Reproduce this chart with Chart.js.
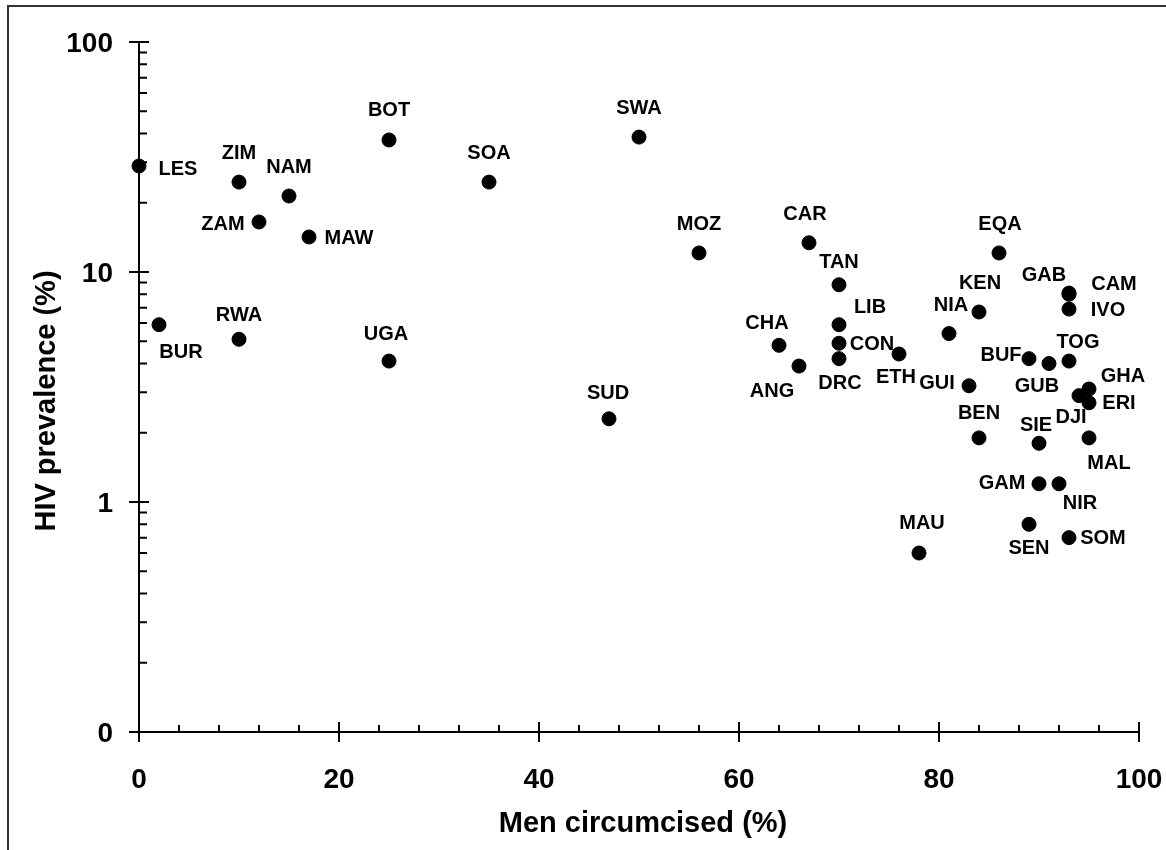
<!DOCTYPE html>
<html>
<head>
<meta charset="utf-8">
<title>HIV prevalence and male circumcision</title>
<script src="https://cdn.jsdelivr.net/npm/chart.js@4.4.1/dist/chart.umd.min.js"></script>
<style>
  html, body { margin: 0; padding: 0; background: #fff; }
  canvas { display: block; }
</style>
</head>
<body>
<canvas id="hivChart" width="1166" height="850"></canvas>
<script>
// Country codes, % of men circumcised, HIV prevalence (%)
const countries = ['LES', 'BUR', 'ZIM', 'ZAM', 'NAM', 'MAW', 'RWA', 'BOT', 'UGA', 'SOA',
  'SWA', 'SUD', 'MOZ', 'CAR', 'TAN', 'LIB', 'CON', 'DRC', 'CHA', 'ANG',
  'ETH', 'NIA', 'KEN', 'EQA', 'GAB', 'CAM', 'IVO', 'TOG', 'BUF', 'GUB',
  'GHA', 'ERI', 'DJI', 'GUI', 'BEN', 'SIE', 'MAL', 'GAM', 'NIR', 'MAU',
  'SEN', 'SOM'];
const circumcised = [0, 2, 10, 12, 15, 17, 10, 25, 25, 35,
  50, 47, 56, 67, 70, 70, 70, 70, 64, 66,
  76, 81, 84, 86, 93, 93, 93, 93, 89, 91,
  95, 95, 94, 83, 84, 90, 95, 90, 92, 78,
  89, 93];
const prevalence = [28.9, 5.9, 24.6, 16.5, 21.4, 14.2, 5.1, 37.5, 4.1, 24.6,
  38.6, 2.3, 12.1, 13.4, 8.8, 5.9, 4.9, 4.2, 4.8, 3.9,
  4.4, 5.4, 6.7, 12.1, 8.1, 8.0, 6.9, 4.1, 4.2, 4.0,
  3.1, 2.7, 2.9, 3.2, 1.9, 1.8, 1.9, 1.2, 1.2, 0.6,
  0.8, 0.7];

const xTicks = [0, 20, 40, 60, 80, 100];
const yTicks = [0.1, 1, 10, 100];
const yTickLabels = ['0', '1', '10', '100'];

// where each country code sits relative to its dot (px)
const labelOffset = {
  LES: [39, 3], BUR: [22, 28], ZIM: [0, -29], ZAM: [-36, 3], NAM: [0, -29],
  MAW: [40, 2], RWA: [0, -24], BOT: [0, -29], UGA: [-3, -27], SOA: [0, -29],
  SWA: [0, -29], SUD: [-1, -25], MOZ: [0, -28], CAR: [-4, -28], TAN: [0, -22],
  LIB: [31, -17], CON: [33, 1], DRC: [1, 25], CHA: [-12, -22], ANG: [-27, 25],
  ETH: [-3, 23], NIA: [2, -28], KEN: [1, -29], EQA: [1, -28], GAB: [-25, -18],
  CAM: [45, -10], IVO: [39, 1], TOG: [9, -19], BUF: [-28, -3], GUB: [-12, 23],
  GHA: [34, -13], ERI: [30, 1], DJI: [-8, 22], GUI: [-32, -2], BEN: [0, -24],
  SIE: [-3, -18], MAL: [20, 26], GAM: [-37, 0], NIR: [21, 20], MAU: [3, -30],
  SEN: [0, 24], SOM: [34, 1]
};

const FONT = '"Liberation Sans", Arial, sans-serif';

// Axes drawn by hand: crossing major ticks, inner minor ticks
const axesPlugin = {
  id: 'axesPlugin',
  beforeDatasetsDraw(chart) {
    const ctx = chart.ctx;
    const xs = chart.scales.x;
    const ys = chart.scales.y;
    const x0 = xs.getPixelForValue(0);
    const x1 = xs.getPixelForValue(100);
    const y0 = ys.getPixelForValue(0.1);
    const y1 = ys.getPixelForValue(100);

    ctx.save();
    // outer frame
    ctx.strokeStyle = '#333';
    ctx.lineWidth = 2;
    ctx.strokeRect(8, 6, chart.width + 20, chart.height + 20);

    ctx.strokeStyle = '#000';
    ctx.lineWidth = 2;
    ctx.beginPath();
    ctx.moveTo(x0, y0); ctx.lineTo(x1, y0);
    ctx.moveTo(x0, y0); ctx.lineTo(x0, y1);

    xTicks.forEach(v => {
      const px = xs.getPixelForValue(v);
      ctx.moveTo(px, y0 - 10); ctx.lineTo(px, y0 + 10);
    });
    for (let v = 4; v < 100; v += 4) {
      if (v % 20 === 0) continue;
      const px = xs.getPixelForValue(v);
      ctx.moveTo(px, y0); ctx.lineTo(px, y0 - 7);
    }
    yTicks.forEach(v => {
      const py = ys.getPixelForValue(v);
      ctx.moveTo(x0 - 10, py); ctx.lineTo(x0 + 10, py);
    });
    [0.1, 1, 10].forEach(dec => {
      for (let m = 2; m <= 9; m++) {
        const py = ys.getPixelForValue(m * dec);
        ctx.moveTo(x0, py); ctx.lineTo(x0 + 8, py);
      }
    });
    ctx.stroke();

    // tick labels
    ctx.fillStyle = '#000';
    ctx.font = 'bold 28px ' + FONT;
    ctx.textAlign = 'center';
    ctx.textBaseline = 'middle';
    xTicks.forEach(v => {
      ctx.fillText(String(v), xs.getPixelForValue(v), y0 + 48);
    });
    ctx.textAlign = 'right';
    yTicks.forEach((v, i) => {
      ctx.fillText(yTickLabels[i], x0 - 26, ys.getPixelForValue(v) + 2);
    });

    // axis titles
    ctx.font = 'bold 29px ' + FONT;
    ctx.textAlign = 'center';
    ctx.fillText('Men circumcised (%)', 643, 824);
    ctx.save();
    ctx.translate(47, 401);
    ctx.rotate(-Math.PI / 2);
    ctx.fillText('HIV prevalence (%)', 0, 0);
    ctx.restore();
    ctx.restore();
  },
  afterDatasetsDraw(chart) {
    const ctx = chart.ctx;
    const meta = chart.getDatasetMeta(0);
    ctx.save();
    ctx.fillStyle = '#000';
    ctx.font = 'bold 20px ' + FONT;
    ctx.textAlign = 'center';
    ctx.textBaseline = 'middle';
    meta.data.forEach((pt, i) => {
      const off = labelOffset[countries[i]] || [0, -28];
      ctx.fillText(countries[i], pt.x + off[0], pt.y + off[1]);
    });
    ctx.restore();
  }
};

function loadChart() {
  const ctx = document.getElementById('hivChart').getContext('2d');
  new Chart(ctx, {
    type: 'scatter',
    data: {
      datasets: [{
        label: 'HIV prevalence',
        data: countries.map((c, i) => ({ x: circumcised[i], y: prevalence[i] })),
        backgroundColor: '#000',
        borderColor: '#000',
        pointRadius: 7,
        pointHoverRadius: 7,
        clip: false
      }]
    },
    options: {
      responsive: false,
      animation: false,
      layout: { padding: { left: 139, right: 27, top: 42, bottom: 118 } },
      plugins: {
        legend: { display: false },
        tooltip: { enabled: false }
      },
      scales: {
        x: { type: 'linear', min: 0, max: 100, display: false },
        y: { type: 'logarithmic', min: 0.1, max: 100, display: false }
      }
    },
    plugins: [axesPlugin]
  });
}

document.addEventListener('DOMContentLoaded', loadChart);
</script>
</body>
</html>
